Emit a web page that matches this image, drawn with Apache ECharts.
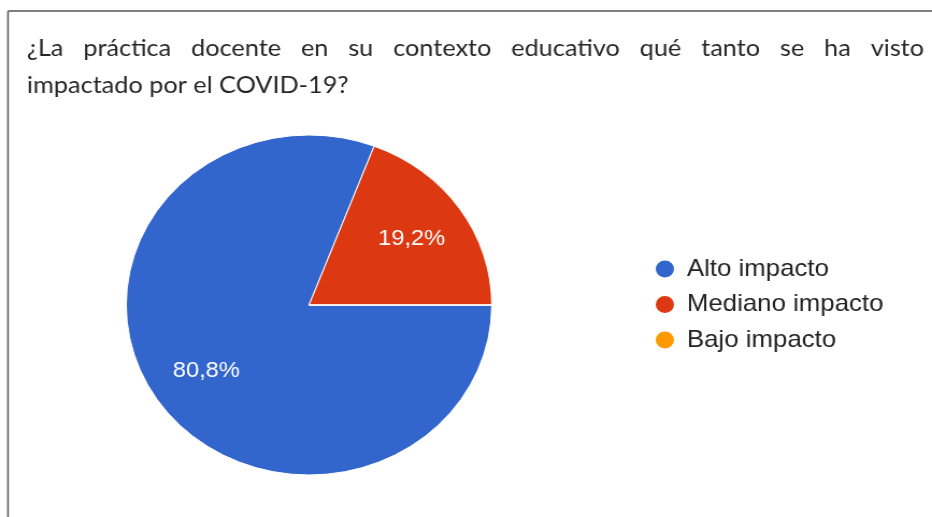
<!DOCTYPE html>
<html>
<head>
<meta charset="utf-8">
<script src="https://cdn.jsdelivr.net/npm/echarts@6/dist/echarts.min.js"></script>
<style>
  html, body { margin: 0; padding: 0; background: #fff; overflow: hidden; }
  #wrap { width: 932px; height: 517px; position: relative; overflow: hidden; }
  #chart { position: absolute; left: 0; top: 0; height: 517px; transform-origin: 0 0; }
</style>
</head>
<body>
<div id="wrap"><div id="chart"></div></div>
<script>
// ---- data ----
const titleLine1 = '¿La práctica docente en su contexto educativo qué tanto se ha visto';
const titleLine2 = 'impactado por el COVID-19?';
const categories = ['Alto impacto', 'Mediano impacto', 'Bajo impacto'];
const values = [80.8, 19.2, 0];
const colors = ['#3366cc', '#dc3912', '#ff9900'];

// ---- layout (reference image is stretched horizontally) ----
const SX = 1.075;
const W = 932 / SX;
const el = document.getElementById('chart');
el.style.width = W + 'px';
el.style.transform = 'scaleX(' + SX + ')';

const titleFont = '23.5px Lato';
const titleColor = '#262626';

// justify first title line between x0 and x1
const x0 = 27 / SX, x1 = 924 / SX;
const ctx = document.createElement('canvas').getContext('2d');
ctx.font = titleFont;
const words = titleLine1.split(' ');
const widths = words.map(w => ctx.measureText(w).width);
const total = widths.reduce((a, b) => a + b, 0);
const gap = (x1 - x0 - total) / (words.length - 1);
const graphics = [];
let cx = x0;
words.forEach((w, i) => {
  graphics.push({ type: 'text', left: cx, top: 36, style: { text: w, font: titleFont, fill: titleColor } });
  cx += widths[i] + gap;
});
graphics.push({ type: 'text', left: x0, top: 73, style: { text: titleLine2, font: titleFont, fill: titleColor } });
// frame lines (top and left)
graphics.push({ type: 'line', shape: { x1: 8 / SX, y1: 11, x2: W, y2: 11 }, style: { stroke: '#555', lineWidth: 1.5 } });
graphics.push({ type: 'line', shape: { x1: 8 / SX, y1: 11, x2: 8 / SX, y2: 517 }, style: { stroke: '#555', lineWidth: 1.5 } });

const pieData = categories.map((c, i) => ({ name: c, value: values[i], itemStyle: { color: colors[i] } }));
const fmt = p => p.value > 0 ? p.value.toFixed(1).replace('.', ',') + '%' : '';

const chart = echarts.init(el, null, { renderer: 'canvas' });
chart.setOption({
  animation: false,
  color: colors,
  graphic: graphics,
  legend: {
    orient: 'vertical',
    left: 603,
    top: 252,
    icon: 'circle',
    itemWidth: 19,
    itemHeight: 19,
    itemGap: 11.5,
    data: categories,
    selectedMode: false,
    textStyle: { fontFamily: 'Liberation Sans, Arial, sans-serif', fontSize: 24, color: '#222', padding: [0, 0, 0, 6] }
  },
  series: [
    {
      type: 'pie',
      center: [309 / SX, 305],
      radius: [0, 170],
      startAngle: 0,
      clockwise: true,
      data: pieData,
      label: { show: false },
      labelLine: { show: false },
      itemStyle: { borderColor: '#fff', borderWidth: 1 },
      emphasis: { disabled: true }
    },
    {
      type: 'pie',
      center: [309 / SX, 305],
      radius: [100, 126],
      startAngle: 0,
      clockwise: true,
      silent: true,
      data: pieData.map(d => ({ name: d.name, value: d.value, itemStyle: { color: 'rgba(0,0,0,0)' } })),
      itemStyle: { borderWidth: 0 },
      label: {
        show: true,
        position: 'inside',
        formatter: fmt,
        color: '#fff',
        fontFamily: 'Liberation Sans, Arial, sans-serif',
        fontSize: 22
      },
      labelLine: { show: false },
      emphasis: { disabled: true }
    }
  ]
});
</script>
</body>
</html>
